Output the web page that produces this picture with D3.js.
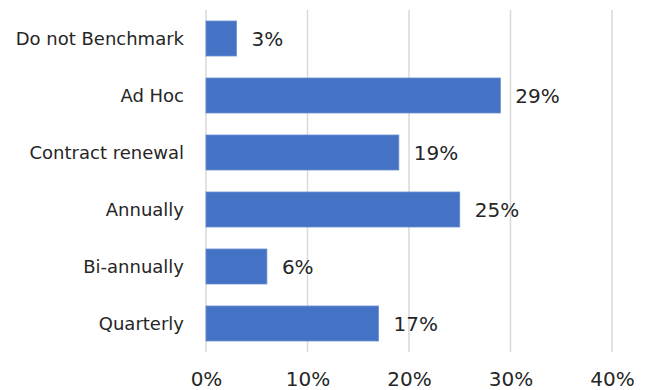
<!DOCTYPE html>
<html>
<head>
<meta charset="utf-8">
<script src="https://cdn.jsdelivr.net/npm/d3@7"></script>
<style>
  html, body { margin: 0; padding: 0; background: #fff; }
  svg text { font-family: "DejaVu Sans", sans-serif; fill: #262626; }
</style>
</head>
<body>
<svg id="chart" width="650" height="390"></svg>
<script>
// Benchmarking frequency, share of respondents
const categories = ["Do not Benchmark", "Ad Hoc", "Contract renewal", "Annually", "Bi-annually", "Quarterly"];
const shares = [3, 29, 19, 25, 6, 17];
const tickValues = [0, 10, 20, 30, 40];

const svg = d3.select("#chart");
const margin = { top: 10, right: 38, bottom: 38, left: 206 };
const width = 650 - margin.left - margin.right;
const height = 390 - margin.top - margin.bottom;

const g = svg.append("g").attr("transform", `translate(${margin.left},${margin.top})`);

const x = d3.scaleLinear().domain([0, 40]).range([0, width]);
const y = d3.scaleBand().domain(categories).range([0, height]).paddingInner(0.386).paddingOuter(0.193);

// vertical gridlines
g.append("g")
  .selectAll("line")
  .data(tickValues)
  .join("line")
  .attr("x1", d => x(d)).attr("x2", d => x(d))
  .attr("y1", 0).attr("y2", height)
  .attr("stroke", "#d9d9d9")
  .attr("stroke-width", 1.5);

// bars
g.append("g")
  .selectAll("rect")
  .data(categories)
  .join("rect")
  .attr("x", x(0))
  .attr("y", d => y(d))
  .attr("width", (d, i) => x(shares[i]) - x(0))
  .attr("height", y.bandwidth())
  .attr("fill", "#4472c4")
  .attr("stroke", "#6b8fd0")
  .attr("stroke-width", 0.8);

// value labels
g.append("g")
  .selectAll("text")
  .data(categories)
  .join("text")
  .attr("x", (d, i) => x(shares[i]) + 15)
  .attr("y", d => y(d) + y.bandwidth() / 2)
  .attr("dy", "0.36em")
  .style("font-size", "20px")
  .text((d, i) => shares[i] + "%");

// category axis
const yAxis = g.append("g").call(d3.axisLeft(y).tickSize(0).tickPadding(22));
yAxis.select(".domain").remove();
yAxis.selectAll("text").style("font-size", "18px").attr("dy", "0.36em");

// value axis
const xAxis = g.append("g")
  .attr("transform", `translate(0,${height})`)
  .call(d3.axisBottom(x).tickValues(tickValues).tickFormat(d => d + "%").tickSize(0).tickPadding(20));
xAxis.select(".domain").remove();
xAxis.selectAll("text").style("font-size", "20px");
</script>
</body>
</html>
